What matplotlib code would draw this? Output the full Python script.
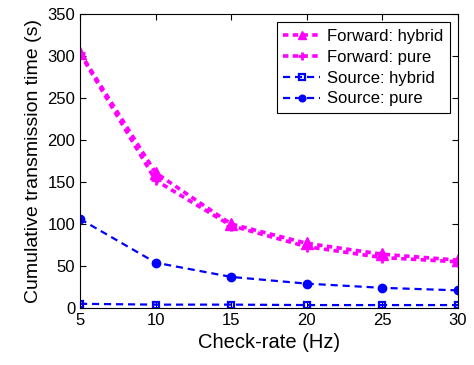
import matplotlib
matplotlib.use("Agg")
import matplotlib.pyplot as plt

plt.rcParams["font.family"] = ["Liberation Sans", "DejaVu Sans"]

check_rate = [5, 10, 15, 20, 25, 30]
forward_hybrid = [304, 161, 100, 77, 64, 57]
forward_pure = [303, 152, 98, 73, 60, 55]
source_hybrid = [5, 4, 4, 3.5, 3.5, 3.5]
source_pure = [106, 54, 37, 29, 24, 21]

fig = plt.figure(figsize=(4.74, 3.65), dpi=100)
ax = fig.add_axes([80 / 474, 57 / 365, 378 / 474, 294 / 365])

ax.plot(check_rate, forward_hybrid, "--^", color="#ff00ff", lw=2.6, ms=8,
        dashes=(1.5, 1.2), label="Forward: hybrid")
ax.plot(check_rate, forward_pure, "--+", color="#ff00ff", lw=2.6, ms=7, mew=2,
        dashes=(1.5, 1.2), label="Forward: pure")
ax.plot(check_rate, source_hybrid, "--s", color="#0000ff", lw=1.6, ms=5,
        mfc="none", mew=1.6, dashes=(3.2, 2.2), label="Source: hybrid")
ax.plot(check_rate, source_pure, "--o", color="#0000ff", lw=1.6, ms=6,
        dashes=(3.2, 2.2), label="Source: pure")

ax.set_xlim(5, 30)
ax.set_ylim(0, 350)
ax.set_xticks(check_rate)
ax.set_yticks(range(0, 351, 50))
ax.tick_params(direction="in", top=True, right=True, labelsize=12, length=4)
ax.set_xlabel("Check-rate (Hz)", fontsize=14.5)
ax.set_ylabel("Cumulative transmission time (s)", fontsize=14)

leg = ax.legend(loc="upper right", fontsize=12, fancybox=False, framealpha=1,
                edgecolor="black", handlelength=2.2, borderaxespad=0.5,
                labelspacing=0.35, handletextpad=0.4, markerscale=0.8)
leg.get_frame().set_linewidth(0.8)

fig.savefig("out.png", dpi=100)
